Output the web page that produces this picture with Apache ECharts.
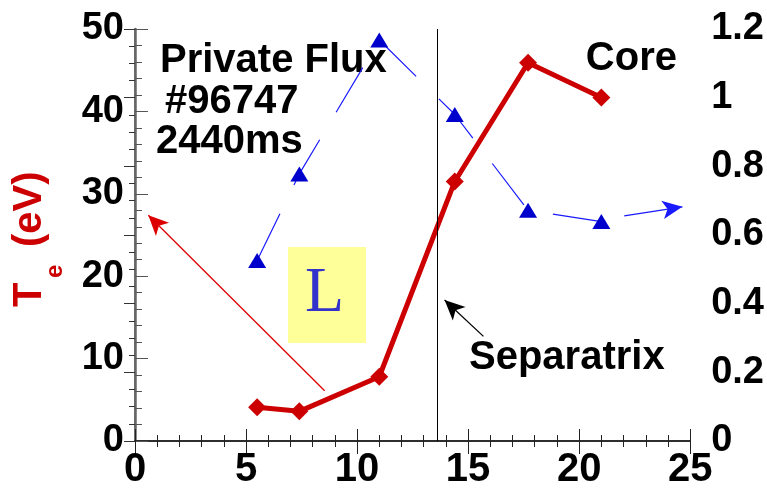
<!DOCTYPE html>
<html>
<head>
<meta charset="utf-8">
<script src="https://cdn.jsdelivr.net/npm/echarts@6/dist/echarts.min.js"></script>
<style>
    html, body { margin: 0; padding: 0; background: #fff; }
    #chart { width: 767px; height: 490px; }
</style>
</head>
<body>
<div id="chart"></div>
<script>
// radial position (x) shared by both profiles
var xPos = [5.5, 7.4, 11.0, 14.4, 17.7, 21.0];
// electron temperature, left axis (eV)
var teValues = [4.1, 3.6, 7.8, 31.5, 45.9, 41.7];
// blue triangles, right axis
var blueValues = [0.526, 0.778, 1.168, 0.951, 0.672, 0.639];
// separatrix position and annotation arrows (data coords: [from, to])
var separatrixX = 13.6;
var redArrow = [[8.54, 6.1], [0.6, 27.4]];
var sepArrow = [[15.69, 12.7], [13.94, 17.1]];
var blueArrow = [[22.03, 0.656], [24.65, 0.682]];

var FONT = 'Liberation Sans';
var RED = '#cc0000';
var BLUE = '#0000cc';

function pairs(xs, ys) {
    var out = [];
    for (var i = 0; i < xs.length; i++) {
        out.push([xs[i], ys[i]]);
    }
    return out;
}

function arrowLine(seg, color) {
    var ls = {color: color, width: 1.3, type: 'solid'};
    return [
        {coord: seg[0], symbol: 'none', lineStyle: ls, itemStyle: {color: color}},
        {coord: seg[1], symbol: 'arrow', symbolSize: [14, 20], lineStyle: ls, itemStyle: {color: color}}
    ];
}

var myChart = echarts.init(document.getElementById('chart'));

var labelStyle = {
    fontFamily: FONT,
    fontWeight: 'bold',
    fontSize: 38,
    color: '#000'
};

option = {
    animation: false,
    grid: {left: 135, right: 76, top: 29, bottom: 46},
    xAxis: [
        {
            type: 'value', position: 'bottom',
            min: 0, max: 25, interval: 5,
            axisLine: {lineStyle: {color: '#222', width: 1.5}},
            axisTick: {inside: true, length: 12, lineStyle: {color: '#222'}},
            minorTick: {show: true, splitNumber: 5, length: 6, lineStyle: {color: '#222'}},
            splitLine: {show: false},
            axisLabel: {fontFamily: FONT, fontWeight: 'bold', fontSize: 40, color: '#000', margin: 9}
        },
        {
            type: 'value', position: 'top',
            min: 0, max: 25, interval: 5,
            axisLine: {lineStyle: {color: '#222', width: 1.5}},
            axisTick: {inside: true, length: 13, lineStyle: {color: '#222'}},
            minorTick: {show: true, splitNumber: 5, length: 6, lineStyle: {color: '#222'}},
            splitLine: {show: false},
            axisLabel: {show: false}
        }
    ],
    yAxis: [
        {
            type: 'value', position: 'left',
            min: 0, max: 50, interval: 10,
            axisLine: {show: true, lineStyle: {color: '#555', width: 1.5}},
            axisTick: {show: true, inside: true, length: 13, lineStyle: {color: '#555'}},
            minorTick: {show: true, splitNumber: 5, length: 7, lineStyle: {color: '#555'}},
            splitLine: {show: false},
            axisLabel: Object.assign({margin: 11, padding: [0, 0, 6, 0]}, labelStyle)
        },
        {
            type: 'value', position: 'right',
            min: 0, max: 1.2, interval: 0.2,
            axisLine: {show: true, lineStyle: {color: '#666', width: 2.5}},
            axisTick: {show: true, inside: true, length: 11, lineStyle: {color: '#333'}},
            minorTick: {show: true, splitNumber: 4, length: 6, lineStyle: {color: '#333'}},
            splitLine: {show: false},
            axisLabel: Object.assign({margin: 21, padding: [8, 0, 0, 0]}, labelStyle)
        }
    ],
    graphic: [
        {
            type: 'group', x: 30, y: 307, rotation: Math.PI / 2, silent: true,
            children: [
                {type: 'text', x: 0, y: 0, style: {text: 'T', fill: RED, font: 'bold 40px "Liberation Sans"', align: 'left', verticalAlign: 'middle', textAlign: 'left', textVerticalAlign: 'middle'}},
                {type: 'text', x: 29, y: 25, style: {text: 'e', fill: RED, font: 'bold 24px "Liberation Sans"', align: 'left', verticalAlign: 'middle', textAlign: 'left', textVerticalAlign: 'middle'}},
                {type: 'text', x: 60, y: 0, style: {text: '(eV)', fill: RED, font: 'bold 40px "Liberation Sans"', align: 'left', verticalAlign: 'middle', textAlign: 'left', textVerticalAlign: 'middle'}}
            ]
        },
        {type: 'rect', left: 288, top: 247, shape: {width: 78, height: 96}, style: {fill: '#ffff99'}, z: 1, silent: true},
        {type: 'text', left: 305, top: 262, style: {text: 'L', fill: '#3333cc', font: '64px "Liberation Serif"'}, z: 2, silent: true},
        {type: 'text', left: 160, top: 41, style: {text: 'Private Flux', fill: '#000', font: 'bold 40px "Liberation Sans"'}, silent: true},
        {type: 'text', left: 165, top: 82, style: {text: '#96747', fill: '#000', font: 'bold 40px "Liberation Sans"'}, silent: true},
        {type: 'text', left: 156, top: 122, style: {text: '2440ms', fill: '#000', font: 'bold 40px "Liberation Sans"'}, silent: true},
        {type: 'text', right: 90, top: 39, style: {text: 'Core', fill: '#000', font: 'bold 40px "Liberation Sans"'}, silent: true},
        {type: 'text', left: 469, top: 338, style: {text: 'Separatrix', fill: '#000', font: 'bold 40px "Liberation Sans"'}, silent: true}
    ],
    series: [
        {
            name: 'blue',
            type: 'line',
            xAxisIndex: 0,
            yAxisIndex: 1,
            data: pairs(xPos, blueValues),
            symbol: 'triangle',
            symbolSize: [18, 15],
            itemStyle: {color: BLUE},
            lineStyle: {color: '#1a1aff', width: 1.2, type: [52, 32]},
            z: 3,
            markLine: {
                silent: true,
                symbol: 'none',
                label: {show: false},
                data: [arrowLine(blueArrow, '#1a1aff')]
            }
        },
        {
            name: 'Te',
            type: 'line',
            xAxisIndex: 0,
            yAxisIndex: 0,
            data: pairs(xPos, teValues),
            symbol: 'diamond',
            symbolSize: 18,
            itemStyle: {color: RED},
            lineStyle: {color: RED, width: 5},
            z: 4,
            markLine: {
                silent: true,
                symbol: 'none',
                label: {show: false},
                data: [
                    {xAxis: separatrixX, lineStyle: {color: '#000', width: 1, type: 'solid'}},
                    arrowLine(redArrow, '#dd0000'),
                    arrowLine(sepArrow, '#000')
                ]
            }
        }
    ]
};
myChart.setOption(option);
</script>
</body>
</html>
